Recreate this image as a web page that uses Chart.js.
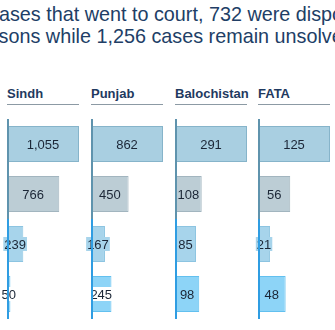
<!DOCTYPE html>
<html>
<head>
<meta charset="utf-8">
<script src="https://cdn.jsdelivr.net/npm/chart.js@4.4.1/dist/chart.umd.min.js"></script>
<style>
  body { margin: 0; background: #fff; width: 335px; height: 330px; overflow: hidden; position: relative; font-family: "Liberation Sans", Arial, sans-serif; }
  .lead { position: absolute; white-space: nowrap; font-size: 19.8px; color: #213e66; }
  .head { position: absolute; top: 86px; width: 72px; font-size: 13px; font-weight: bold; color: #1f3a60; border-bottom: 1px solid #8c9aa4; padding-bottom: 3px; white-space: nowrap; }
  .panel { position: absolute; top: 119px; width: 90px; height: 200px; }
</style>
</head>
<body>
<div class="lead" style="left:-11px; top:3px;">cases that went to court, 732 were disposed</div>
<div class="lead" style="left:-30px; top:25px;">reasons while 1,256 cases remain unsolved</div>

<div id="heads"></div>
<div id="panels"></div>

<script>
document.addEventListener("DOMContentLoaded", function () {

// provinces and the four case stages (one bar per stage)
const provincias = ['Sindh', 'Punjab', 'Balochistan', 'FATA'];
const etapas = ['Registrados', 'En tribunal', 'Resueltos', 'Pendientes'];

const sindh = [1055, 766, 239, 50];
const punjab = [862, 450, 167, 245];
const balochistan = [291, 108, 85, 98];
const fata = [125, 56, 21, 48];

const valores = [sindh, punjab, balochistan, fata];

// colores por etapa
const relleno = ['#a9cfe1', '#bccdd5', '#a7d4eb', '#8dd4f7'];
const borde = ['#86b4ca', '#a2b5bf', '#8cc4e1', '#62c0ef'];
const fondoEtiqueta = [null, null, '#a7d4eb', '#ffffff'];

const posX = [8, 92, 176, 259];

// etiquetas de valor centradas en cada barra
const etiquetas = {
  id: 'etiquetas',
  afterDatasetsDraw(chart) {
    const c = chart.ctx;
    const meta = chart.getDatasetMeta(0);
    const datos = chart.data.datasets[0].data;
    c.save();
    c.font = '13px "Liberation Sans", Arial, sans-serif';
    c.textAlign = 'center';
    c.textBaseline = 'middle';
    meta.data.forEach((bar, i) => {
      const txt = datos[i].toLocaleString('en-US');
      const cx = (bar.base + bar.x) / 2;
      const w = c.measureText(txt).width;
      if (w + 2 > bar.x - bar.base && fondoEtiqueta[i]) {
        c.fillStyle = fondoEtiqueta[i];
        c.fillRect(cx - w / 2 - 1, bar.y - 7, w + 2, 14);
      }
      c.fillStyle = '#1b2636';
      c.fillText(txt, cx, bar.y + 1);
    });
    // eje vertical
    const a = chart.chartArea;
    const mitad = (a.top + a.bottom) / 2;
    c.lineWidth = 2;
    c.strokeStyle = '#5f93ad';
    c.beginPath(); c.moveTo(a.left + 1, a.top); c.lineTo(a.left + 1, mitad); c.stroke();
    c.strokeStyle = '#2f9de2';
    c.beginPath(); c.moveTo(a.left + 1, mitad); c.lineTo(a.left + 1, a.bottom); c.stroke();
    c.restore();
  }
};

const heads = document.getElementById('heads');
const panels = document.getElementById('panels');

provincias.forEach((p, k) => {
  const h = document.createElement('div');
  h.className = 'head';
  h.style.left = (posX[k] - 1) + 'px';
  h.textContent = p;
  heads.appendChild(h);

  // el lienzo sobresale a ambos lados para que las etiquetas no se corten
  const d = document.createElement('div');
  d.className = 'panel';
  d.style.left = (posX[k] - 9) + 'px';
  const cv = document.createElement('canvas');
  d.appendChild(cv);
  panels.appendChild(d);

  new Chart(cv.getContext('2d'), {
    type: 'bar',
    data: {
      labels: etapas,
      datasets: [{
        data: valores[k],
        backgroundColor: relleno,
        borderColor: borde,
        borderWidth: 1,
        barPercentage: 0.72,
        categoryPercentage: 1
      }]
    },
    options: {
      indexAxis: 'y',
      responsive: true,
      maintainAspectRatio: false,
      animation: false,
      layout: { padding: { left: 8, right: 10, top: 0, bottom: 0 } },
      plugins: {
        legend: { display: false },
        tooltip: { enabled: false }
      },
      scales: {
        x: { display: false, min: 0, max: Math.max(...valores[k]) },
        y: { display: false }
      }
    },
    plugins: [etiquetas]
  });
});

});
</script>
</body>
</html>
